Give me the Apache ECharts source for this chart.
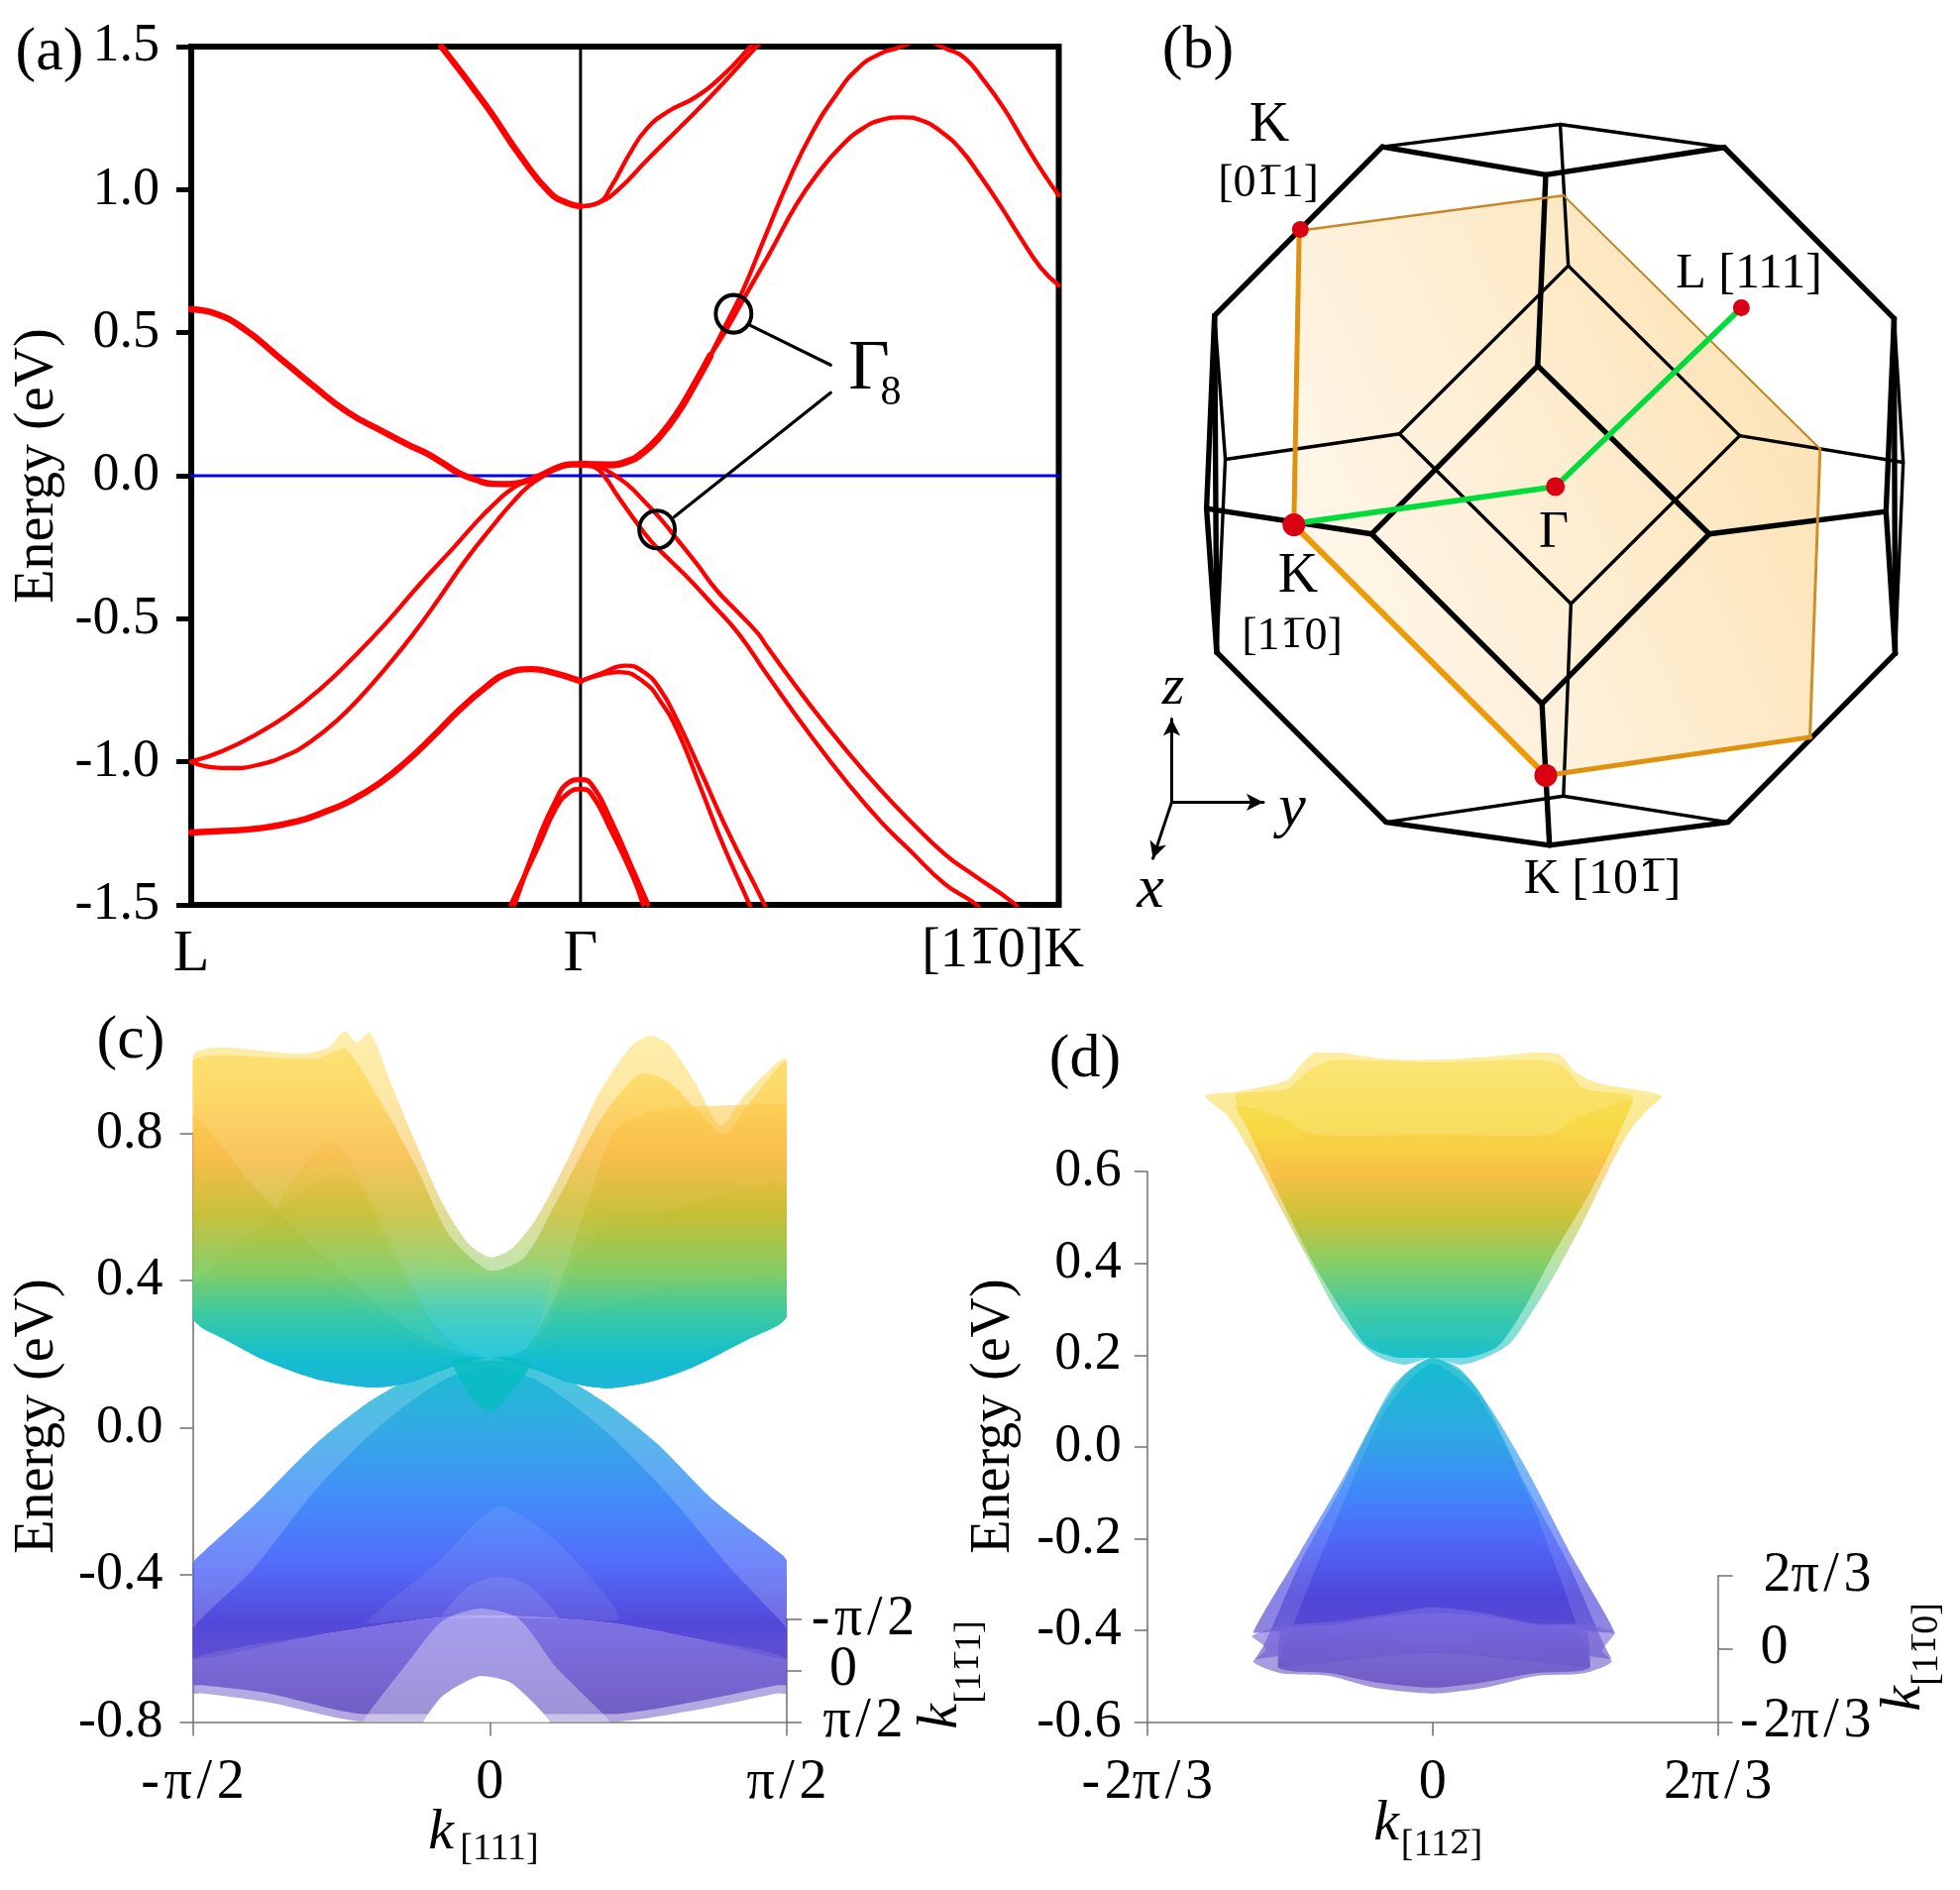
<!DOCTYPE html>
<html><head><meta charset="utf-8">
<style>html,body{margin:0;padding:0;background:#fff}#c{width:1978px;height:1907px}</style>
<script src="https://cdn.jsdelivr.net/npm/echarts@6/dist/echarts.min.js"></script>
</head><body><div id="c"></div>
<script>
/* ---------- (a) band structure: k (Gamma=0, L=-81.4, K=100), E in eV ---------- */
const bandCondL = [[-29.1,1.5],[-19.6,1.29],[-12.4,1.113],[-6.5,.991],[-2.9,.954],[0,.942]];
const bandCondR1 = [[0,.942],[3.6,.953],[6.5,1.013],[10.2,1.124],[13.8,1.212],[18.2,1.272],[24,1.323],[29.8,1.40],[34.9,1.489],[36.4,1.52]];
const bandCondR2 = [[0,.942],[3.6,.953],[8,1.002],[13.8,1.102],[21.1,1.223],[28.3,1.345],[36.8,1.5],[38,1.52]];
const bandFermiL = [[-81.4,.582],[-76.3,.566],[-70.5,.515],[-63.2,.416],[-56,.316],[-48.7,.222],[-41.4,.155],[-36,.108],[-32.3,.079],[-28.8,.044],[-25.4,.009],[-21.9,-.014],[-18.5,-.028],[-15,-.029],[-11.6,-.02],[-8.1,.003],[-4.7,.029],[-1.9,.04],[0,.04]];
const bandFermiR = [[0,.04],[5.7,.038],[9.8,.05],[13.3,.084],[16.8,.142],[20.2,.217],[23.7,.315],[27.1,.419]];
const bandFermiR1 = [[27.1,.419],[29.9,.512],[34,.65],[38.5,.832],[43.7,1.039],[48.5,1.201],[53.3,1.328],[58.2,1.427],[63,1.478],[65.8,1.492],[71.3,1.52],[76.8,1.49],[80.3,1.461],[84.4,1.38],[88.6,1.282],[92.7,1.167],[96.8,1.057],[100,.98]];
const bandFermiR2 = [[27.1,.419],[30.5,.51],[35.2,.65],[39.8,.785],[45.1,.947],[49.9,1.063],[54.7,1.155],[58.9,1.213],[63,1.244],[67.2,1.253],[71.3,1.242],[75.5,1.201],[79.6,1.138],[83.7,1.045],[87.9,.941],[92,.832],[96.2,.728],[100,.665]];
const bandValL1 = [[-81.4,-.999],[-75.1,-.964],[-67.5,-.901],[-61.3,-.837],[-54.4,-.745],[-47.5,-.635],[-40.6,-.514],[-33.7,-.381],[-26.7,-.254],[-21.9,-.164],[-18.5,-.106],[-15,-.054],[-11.6,-.02],[-8.1,.003],[-4.7,.029],[0,.04]];
const bandValL2 = [[-81.4,-1],[-77.2,-1.019],[-73,-1.022],[-67.5,-1.011],[-61.3,-.976],[-56.5,-.93],[-50.9,-.855],[-45.4,-.762],[-40.6,-.67],[-35,-.554],[-29.5,-.427],[-24,-.295],[-17.8,-.164],[-14.3,-.095],[-10.9,-.037],[-7.4,.003],[-4.7,.029],[0,.04]];
const bandValR1 = [[0,.04],[2.9,.036],[6.4,.009],[9.8,-.031],[13.3,-.089],[16.8,-.152],[20.2,-.222],[24.3,-.308],[28.5,-.401],[32.6,-.472],[37.1,-.551],[38.9,-.595],[47.8,-.797],[56.1,-.97],[63,-1.103],[68.6,-1.201],[76.1,-1.322],[82.3,-1.397],[90.3,-1.49],[92,-1.52]];
const bandValR2 = [[0,.04],[2.9,.03],[5,-.002],[7.8,-.072],[11.2,-.152],[14.7,-.228],[18.8,-.297],[23,-.366],[27.1,-.441],[33,-.551],[38.9,-.693],[47.8,-.901],[56.1,-1.08],[63,-1.213],[68.6,-1.305],[76.1,-1.426],[82,-1.49],[84,-1.52]];
const bandSplitL = [[-81.4,-1.247],[-75.1,-1.242],[-67.5,-1.233],[-59.2,-1.208],[-53,-1.172],[-48.2,-1.137],[-42,-1.074],[-36.4,-.999],[-30.9,-.912],[-25.4,-.82],[-19.8,-.739],[-15.7,-.693],[-10.2,-.676],[-6,-.687],[0,-.718]];
const bandSplitR1 = [[0,-.718],[4.4,-.69],[9.4,-.664],[13.3,-.687],[16.8,-.751],[20.2,-.855],[25,-1.028],[30.6,-1.236],[38.2,-1.49],[39,-1.52]];
const bandSplitR2 = [[0,-.718],[4.4,-.695],[8,-.686],[13.3,-.722],[16.8,-.791],[20.2,-.889],[25,-1.086],[29.9,-1.294],[35.1,-1.49],[35.8,-1.52]];
const bandLow1 = [[-13.8,-1.498],[-8.8,-1.27],[-5.1,-1.133],[-2.6,-1.074],[0,-1.062],[2.2,-1.077],[6.5,-1.21],[10.9,-1.376],[14.1,-1.498]];
const bandLow2 = [[-14.5,-1.498],[-8.8,-1.294],[-5.3,-1.166],[-2.6,-1.11],[0,-1.095],[2.2,-1.111],[6.5,-1.243],[10.9,-1.398],[13.1,-1.498]];
const gammaCircles = [[32,.566],[16,-.188]];
const gammaLeader1 = [[35.3,.527],[52.3,.387]];
const gammaLeader2 = [[19.6,-.144],[52.3,.29]];

/* ---------- (b) Brillouin zone schematic, plane units 0..1568 ---------- */
const bzThick = [
 [[490,242],[795,288],[1128,243]],[[795,288],[780,603]],[[490,242],[177,520]],[[1128,243],[1445,525]],
 [[181,1075],[497,1355],[802,1393],[1135,1355],[1447,1077]],[[802,1393],[788,1160]],
 [[780,603],[470,880],[788,1160],[1100,880],[780,603]],[[162,838],[470,880]],[[1100,880],[1430,843]],
 [[177,520],[181,1075]],[[177,520],[162,838],[181,1075]],[[1445,525],[1447,1077]],[[1445,525],[1430,843],[1447,1077]]];
const bzThin = [
 [[497,1355],[828,1312],[1135,1355]],[[828,1312],[842,995]],[[490,242],[822,205],[1128,243]],[[822,205],[837,438]],
 [[837,438],[522,715],[842,995],[1157,718],[837,438]],[[197,757],[522,715]],[[1157,718],[1462,762]],
 [[177,520],[197,757],[181,1075]],[[1445,525],[1462,762],[1447,1077]]];
const bzPlane = [[335,380],[828,322],[1307,740],[1288,1215],[795,1278],[325,865]];
const bzPlaneEdges = [
 {p:[[335,380],[828,322]],w:2.5,c:'#c4892a'},{p:[[828,322],[1307,740]],w:2,c:'#bd8624'},
 {p:[[1307,740],[1288,1215]],w:3,c:'#cd9028'},{p:[[1288,1215],[795,1278]],w:5,c:'#de9210'},
 {p:[[795,1278],[325,865]],w:6,c:'#ee9a06'},{p:[[325,865],[335,380]],w:5,c:'#de9210'}];
const bzPath = [[325,863],[813,802],[1160,507]];
const bzPoints = [{p:[337,378],s:17},{p:[325,865],s:23},{p:[795,1278],s:23},{p:[813,802],s:19},{p:[1160,507],s:17}];
const triadZ = [[97,1322],[97,1185]], triadY = [[97,1322],[268,1322]], triadX = [[97,1322],[62,1415]];

/* ---------- (c) surface sheets: k in units of pi/2, E in eV ---------- */
const cLow = [[-1,.30],[-.97,.272],[-.904,.245],[-.755,.182],[-.585,.132],[-.394,.109],[-.266,.123],[-.16,.156],[0,.19],[.16,.156],[.266,.123],[.394,.107],[.543,.125],[.691,.167],[.862,.237],[.97,.278],[1,.304]];
const cTopA = [[-1,1.008],[-.628,1.016],[-.543,1.034],[-.489,1.078],[-.447,1.047],[-.404,1.075],[-.33,.93],[-.245,.766],[-.16,.611],[-.074,.502],[0,.463],[.074,.486],[.16,.572],[.266,.735],[.372,.914],[.479,1.039],[.543,1.065],[.606,1.039],[.691,.938],[.777,.821],[.862,.907],[1,1.0]];
const cTopB = [[-1,.997],[-.585,1.003],[-.489,1.031],[-.372,.891],[-.245,.704],[-.138,.525],[0,.427],[.117,.463],[.223,.611],[.372,.836],[.479,.945],[.521,.964],[.606,.938],[.691,.868],[.787,.798],[.883,.891],[1,.992]];
const cTopC = [[-1,.844],[-.904,.766],[-.798,.657],[-.691,.572],[-.543,.455],[-.372,.33],[-.245,.252],[-.117,.206],[0,.19],[.117,.213],[.223,.361],[.33,.611],[.426,.813],[.564,.864],[.777,.875],[1,.88]];
const cTopD = [[-1,.385],[-.798,.502],[-.649,.688],[-.532,.782],[-.436,.673],[-.33,.502],[-.202,.299],[-.096,.213],[0,.19],[.117,.213],[.223,.315],[.394,.564],[.564,.587],[1,.657]];
const cTopE = [[-1,.385],[-.713,.587],[-.606,.657],[-.511,.681],[-.436,.65],[-.33,.47],[-.16,.252],[0,.19],[.16,.237],[.33,.517],[.564,.572],[1,.65]];
const cTopF = [[-1,.385],[-.734,.424],[-.543,.393],[-.33,.268],[-.16,.2],[0,.19],[.16,.2],[.33,.3],[.6,.38],[1,.4]];
const cFunnel = [[-.3,.46],[0,.42],[.22,.5],[.16,.26],[.1,.2],[0,.19],[-.1,.2],[-.2,.28]];
const cDrop = [[-.128,.182],[-.074,.097],[0,.042],[.074,.097],[.138,.174],[0,.19]];
const cValTop1 = [[-1,-.371],[-.96,-.335],[-.798,-.215],[-.585,-.044],[-.415,.065],[-.245,.143],[-.117,.174],[0,.182],[.117,.174],[.266,.128],[.394,.065],[.564,-.044],[.755,-.199],[.96,-.33],[1,-.363]];
const cValTop2 = [[-1,-.55],[-.96,-.51],[-.798,-.386],[-.585,-.168],[-.372,.003],[-.16,.128],[0,.167],[.16,.128],[.372,.003],[.585,-.168],[.798,-.371],[.96,-.51],[1,-.55]];
const cValBase = [[-1,-.628],[-.585,-.565],[-.202,-.519],[0,-.511],[.234,-.519],[.436,-.534],[.691,-.573],[1,-.628]];
const cDiscLow1 = [[-1,-.721],[-.97,-.722],[-.755,-.745],[-.426,-.799],[.415,-.8],[.691,-.768],[.97,-.722],[1,-.721]];
const cDiscLow2 = [[-1,-.698],[-.97,-.7],[-.755,-.721],[-.426,-.779],[.415,-.779],[.691,-.745],[.97,-.7],[1,-.698]];
const cLobe1 = [[-.415,-.534],[-.181,-.371],[.032,-.215],[.223,-.308],[.436,-.519],[.234,-.519],[-.202,-.519]];
const cLobe2 = [[-.16,-.511],[-.074,-.433],[.032,-.405],[.138,-.433],[.234,-.519]];
const cLobe3 = [[-.426,-.8],[-.266,-.628],[-.16,-.526],[-.032,-.492],[.096,-.519],[.223,-.651],[.404,-.8]];
const cHole = [[-.223,-.8],[-.16,-.73],[-.032,-.675],[.074,-.695],[.202,-.8]];

/* ---------- (d) surface sheets: k in units of 2pi/3, E in eV ---------- */
const dOuter = [[-.797,.765],[-.683,.775],[-.509,.8],[-.455,.838],[-.412,.86],[-.336,.86],[-.163,.846],[.011,.844],[.184,.85],[.358,.86],[.444,.856],[.498,.819],[.574,.794],[.806,.765],[.748,.731],[.683,.681],[.618,.606],[.531,.494],[.423,.369],[.336,.281],[.271,.225],[.184,.194],[.098,.179],[0,.194],[-.098,.179],[-.184,.194],[-.26,.231],[-.336,.294],[-.423,.394],[-.531,.519],[-.639,.644],[-.715,.719]];
const dInner = [[-.693,.765],[-.509,.781],[-.423,.825],[-.336,.844],[.011,.838],[.358,.844],[.455,.831],[.531,.781],[.704,.763],[.661,.694],[.553,.556],[.423,.419],[.314,.294],[.228,.219],[.119,.194],[0,.194],[-.119,.194],[-.228,.219],[-.314,.294],[-.423,.406],[-.553,.569],[-.639,.681]];
const dFront = [[-.693,.744],[-.509,.713],[-.423,.681],[.011,.681],[.423,.681],[.488,.713],[.704,.756],[.661,.694],[.553,.556],[.423,.419],[.314,.294],[.228,.219],[.119,.194],[0,.194],[-.119,.194],[-.228,.219],[-.314,.294],[-.423,.406],[-.553,.569],[-.639,.681]];
const dCone1 = [[0,.194],[.098,.169],[.206,.081],[.336,-.056],[.488,-.238],[.639,-.406],[0,-.369],[-.628,-.406],[-.466,-.231],[-.314,-.069],[-.206,.056],[-.098,.156]];
const dCone2 = [[0,.194],[.152,.131],[.325,-.081],[.477,-.256],[.596,-.425],[.628,-.463],[0,-.4],[-.622,-.463],[-.585,-.425],[-.466,-.256],[-.314,-.081],[-.141,.131]];
const dCone3 = [[0,.181],[.163,.106],[.336,-.106],[.466,-.319],[.553,-.481],[0,-.45],[-.542,-.481],[-.444,-.319],[-.336,-.156],[-.163,.081]];
const dDisc1 = [[-.633,-.413],[-.596,-.431],[-.585,-.444],[-.628,-.469],[-.531,-.494],[-.358,-.5],[-.206,-.525],[0,-.538],[.184,-.525],[.358,-.5],[.531,-.494],[.628,-.469],[.596,-.444],[.639,-.406],[.531,-.388],[.358,-.385],[.184,-.363],[0,-.35],[-.141,-.363],[-.336,-.381],[-.531,-.391]];
const dDisc2 = [[-.542,-.481],[-.358,-.494],[-.206,-.513],[0,-.525],[.184,-.513],[.358,-.494],[.553,-.481],[.531,-.394],[.358,-.388],[.184,-.369],[0,-.363],[-.141,-.369],[-.336,-.388],[-.531,-.4]];

/* colour scales: energy -> colour */
const cScale = [[1.1,'#fbe05a'],[.92,'#fcd24a'],[.74,'#f8b83c'],[.58,'#c4bc2c'],[.42,'#7ccb60'],[.31,'#36c8a0'],[.19,'#0cbccc'],[0,'#28a6e2'],[-.21,'#3a84fa'],[-.37,'#4a64f8'],[-.53,'#4a40d8'],[-.63,'#5646cc'],[-.8,'#6a50c0']];
const dScale = [[.88,'#fbe05a'],[.7,'#f6d83c'],[.6,'#f8be3c'],[.5,'#c8c030'],[.4,'#80cc60'],[.3,'#38c8a0'],[.19,'#0cbccc'],[.03,'#28a6e2'],[-.1,'#3a84fa'],[-.2,'#4a64f8'],[-.33,'#4a40d8'],[-.42,'#5646cc'],[-.55,'#6a50c0']];
const cDiscScale = [[-.5,'#7468e6'],[-.8,'#6650bc']];
const dDiscScale = [[-.34,'#7a6ee8'],[-.54,'#6650bc']];
const funnelScale = [[.46,'rgba(30,200,230,0)'],[.2,'rgba(30,200,230,.45)']];

/* layout */
const FONT = '"Liberation Serif"';
const sheet = (top,low)=>top.concat(low.slice().reverse());

function sheetSeries(pts,grid,scale,opacity,fillColor){
  return {type:'custom',xAxisIndex:grid,yAxisIndex:grid,data:pts,encode:{x:0,y:1},silent:true,
   renderItem:(params,api)=>{
    if(params.dataIndex!==0) return null;
    const p=pts.map(q=>api.coord(q));
    let fill=fillColor;
    if(!fill){
      const y0=api.coord([0,scale[0][0]])[1], y1=api.coord([0,scale[scale.length-1][0]])[1];
      fill={type:'linear',x:0,y:y0,x2:0,y2:y1,global:true,
        colorStops:scale.map(s=>({offset:(api.coord([0,s[0]])[1]-y0)/(y1-y0),color:s[1]}))};
    }
    const xs=p.map(a=>a[0]),ys=p.map(a=>a[1]);
    return {type:'polygon',silent:true,shape:{points:p,smooth:.25,smoothConstraint:[[Math.min(...xs),Math.min(...ys)],[Math.max(...xs),Math.max(...ys)]]},style:{fill,opacity}};
   }};
}
const line=(pts,grid,w,c,extra)=>Object.assign({type:'line',xAxisIndex:grid,yAxisIndex:grid,data:pts,showSymbol:false,symbol:'none',silent:true,lineStyle:{width:w,color:c,cap:'round',join:'round'}},extra||{});
const redThin=4.3, redThick=6.4, RED='#ff0000', SM={smooth:.5};
const fmtE=v=>(Math.abs(v)<1e-9?0:v).toFixed(1);
const H='\u200a';
const P2N='-'+H+'\u03c0'+H+'/'+H+'2', P2='\u03c0'+H+'/'+H+'2';
const T3N='-'+H+'2\u03c0'+H+'/'+H+'3', T3='2\u03c0'+H+'/'+H+'3';
const mathFmt=(a,b,c)=>v=>v<-.5?a:(v>.5?c:b);

const series=[
 line([[0,-1.5],[0,1.5]],0,3,'#000'),
 line([[-81.4,0],[100,0]],0,3.2,'#0000ee'),
 line(bandCondL,0,redThick,RED,SM),line(bandCondR1,0,redThin,RED,SM),line(bandCondR2,0,redThin,RED,SM),
 line(bandFermiL,0,redThick,RED,SM),line(bandFermiR,0,redThick+.8,RED,SM),
 line(bandFermiR1,0,redThin,RED,SM),line(bandFermiR2,0,redThin,RED,SM),
 line(bandValL1,0,redThin,RED,SM),line(bandValL2,0,redThin,RED,SM),
 line(bandValR1,0,redThin,RED,SM),line(bandValR2,0,redThin,RED,SM),
 line(bandSplitL,0,redThick,RED,SM),line(bandSplitR1,0,redThin,RED,SM),line(bandSplitR2,0,redThin,RED,SM),
 line(bandLow1,0,redThin+.6,RED,SM),line(bandLow2,0,redThin+.6,RED,SM),
 line(gammaLeader1,0,3.2,'#000',{z:5}),line(gammaLeader2,0,3.2,'#000',{z:5}),
 {type:'scatter',xAxisIndex:0,yAxisIndex:0,data:gammaCircles,symbol:'circle',symbolSize:[36,38],silent:true,z:5,itemStyle:{color:'rgba(0,0,0,0)',borderColor:'#000',borderWidth:4,opacity:1}},
 /* (b) */
 {type:'custom',xAxisIndex:1,yAxisIndex:1,data:bzPlane,encode:{x:0,y:1},silent:true,z:1,renderItem:(params,api)=>{
   if(params.dataIndex!==0) return null;
   const a=api.coord([325,1100]),b=api.coord([1300,700]);
   return {type:'polygon',shape:{points:bzPlane.map(q=>api.coord(q))},style:{fill:{type:'linear',x:a[0],y:a[1],x2:b[0],y2:b[1],global:true,colorStops:[{offset:0,color:'#fff9f0'},{offset:1,color:'#fde3b6'}]}}};
 }},
 ...bzThick.map(p=>line(p,1,5.4,'#000',{z:3})),
 ...bzThin.map(p=>line(p,1,3.4,'#000',{z:3})),
 ...bzPlaneEdges.map(e=>line(e.p,1,e.w,e.c,{z:4})),
 line(bzPath,1,5.6,'#00dc3c',{z:5}),
 {type:'scatter',xAxisIndex:1,yAxisIndex:1,z:6,silent:true,data:bzPoints.map(o=>({value:o.p,symbolSize:o.s})),itemStyle:{color:'#d80012',opacity:1}},
 line(triadZ,1,3,'#000'),line(triadY,1,3,'#000'),line(triadX,1,3,'#000'),
 {type:'scatter',xAxisIndex:1,yAxisIndex:1,silent:true,symbol:'arrow',itemStyle:{color:'#000',opacity:1},
  data:[{value:triadZ[1],symbolRotate:0,symbolSize:[13,17]},{value:triadY[1],symbolRotate:-90,symbolSize:[13,17]},{value:triadX[1],symbolRotate:162,symbolSize:[13,17]}]},
 /* (c) */
 sheetSeries(sheet(cTopA,cLow),2,cScale,.5),
 sheetSeries(sheet(cTopB,cLow),2,cScale,.65),
 sheetSeries(sheet(cTopE,cLow),2,cScale,.3),
 sheetSeries(sheet(cTopD,cLow),2,cScale,.3),
 sheetSeries(sheet(cTopF,cLow),2,cScale,.3),
 sheetSeries(sheet(cTopC,cLow),2,cScale,.55),
 sheetSeries(cFunnel,2,funnelScale,1),
 sheetSeries(sheet(cValTop1,cValBase),2,cScale,.78),
 sheetSeries(sheet(cValTop2,cValBase),2,cScale,.78),
 sheetSeries(sheet(cValBase,cDiscLow1),2,cDiscScale,.5),
 sheetSeries(sheet(cValBase,cDiscLow2),2,cDiscScale,.85),
 sheetSeries(cDrop,2,cScale,.85,'#08bcc2'),
 sheetSeries(cLobe1,2,cScale,.08,'#ffffff'),
 sheetSeries(cLobe2,2,cScale,.1,'#ffffff'),
 sheetSeries(cLobe3,2,cScale,.32,'#ffffff'),
 sheetSeries(cHole,2,cScale,1,'#ffffff'),
 /* (d) */
 sheetSeries(dOuter,3,dScale,.55),
 sheetSeries(dInner,3,dScale,.6),
 sheetSeries(dFront,3,dScale,.75),
 sheetSeries(dCone1,3,dScale,.65),
 sheetSeries(dCone2,3,dScale,.6),
 sheetSeries(dCone3,3,dScale,.8),
 sheetSeries(dDisc1,3,dDiscScale,.6),
 sheetSeries(dDisc2,3,dDiscScale,.85)
];

const thin={lineStyle:{color:'#777',width:1.6}};
const labelStyle={fontFamily:FONT,fontSize:54,color:'#000'};
const mathStyle={fontFamily:FONT,fontSize:56,color:'#000',hideOverlap:false,showMinLabel:true,showMaxLabel:true};
const grids=[
 {left:193,top:47,width:875.5,height:866,show:true,borderColor:'#000',borderWidth:6,backgroundColor:'transparent'},
 {left:1130,top:0,width:848,height:960},
 {left:194.5,top:1143.4,width:599.5,height:594},
 {left:1157.8,top:1182.2,width:575.8,height:555.2},
 {left:793,top:1634,width:1,height:103.4},
 {left:1732.6,top:1590,width:1,height:147.4}
];
const hiddenX=i=>({type:'value',gridIndex:i,show:false,min:0,max:1});
const xAxis=[
 {type:'value',gridIndex:0,min:-81.4,max:100,axisLine:{show:false,onZero:false},axisTick:{show:false},splitLine:{show:false},
  axisLabel:{...labelStyle,fontSize:60,margin:20,customValues:[-81.4,0],formatter:v=>v<-1?'L':'\u0393'}},
 {type:'value',gridIndex:1,show:false,min:0,max:1568},
 {type:'value',gridIndex:2,min:-1,max:1,interval:1,axisLine:{show:true,onZero:false,...thin},axisTick:{length:14,...thin},splitLine:{show:false},
  axisLabel:{...mathStyle,margin:34,formatter:mathFmt(P2N,'0',P2)}},
 {type:'value',gridIndex:3,min:-1,max:1,interval:1,axisLine:{show:true,onZero:false,...thin},axisTick:{length:14,...thin},splitLine:{show:false},
  axisLabel:{...mathStyle,margin:34,formatter:mathFmt(T3N,'0',T3)}},
 hiddenX(4),hiddenX(5)
];
const yAxis=[
 {type:'value',gridIndex:0,position:'left',min:-1.5,max:1.5,interval:.5,axisLine:{show:false,onZero:false},axisTick:{show:true,length:15,lineStyle:{color:'#000',width:5}},splitLine:{show:false},
  axisLabel:{...labelStyle,margin:32,formatter:fmtE}},
 {type:'value',gridIndex:1,show:false,min:0,max:1568,inverse:true},
 {type:'value',gridIndex:2,position:'left',min:-.8,max:.8,interval:.4,axisLine:{show:true,onZero:false,...thin},axisTick:{length:13,...thin},splitLine:{show:false},
  axisLabel:{...labelStyle,margin:30,formatter:fmtE}},
 {type:'value',gridIndex:3,position:'left',min:-.6,max:.6,interval:.2,axisLine:{show:true,onZero:false,...thin},axisTick:{length:13,...thin},splitLine:{show:false},
  axisLabel:{...labelStyle,margin:26,formatter:fmtE}},
 {type:'value',gridIndex:4,position:'right',inverse:true,min:-1,max:1,interval:1,axisLine:{show:true,onZero:false,...thin},axisTick:{length:15,...thin},splitLine:{show:false},
  axisLabel:{...mathStyle,align:'center',margin:77,formatter:mathFmt(P2N,'',P2)}},
 {type:'value',gridIndex:5,position:'right',min:-1,max:1,interval:1,axisLine:{show:true,onZero:false,...thin},axisTick:{length:15,...thin},splitLine:{show:false},
  axisLabel:{...mathStyle,align:'right',margin:155,formatter:mathFmt(T3N,'0\u00a0\u00a0\u00a0\u00a0\u00a0\u00a0',T3)}}
];

const T=(text,x,y,size,opt)=>{opt=opt||{};return {type:'text',x,y,rotation:opt.rot||0,z:20,silent:true,
  style:{text,fontFamily:FONT,fontSize:size,fontStyle:opt.italic?'italic':'normal',fill:'#000',align:opt.align||'center',verticalAlign:'middle',rich:opt.rich}};};
/* labels with an overbar digit: the barred digit uses a font whose mark sits over the digit */
const BAR='\u0305';
const richFor=s=>({a:{fontFamily:FONT,fontSize:s,fill:'#000'},b:{fontFamily:'"DejaVu Serif"',fontSize:Math.round(s*.84),fill:'#000'}});
const TB=(before,digit,after,x,y,size,opt)=>T('{a|'+before+'}{b|'+digit+BAR+'}{a|'+after+'}',x,y,size,Object.assign({rich:richFor(size)},opt||{}));
const texts=[
 T('(a)',50,54,62),T('(b)',1209,52,62),T('(c)',132,1051,62),T('(d)',1095,1070,62),
 T('Energy (eV)',38,470,56,{rot:Math.PI/2}),T('Energy (eV)',38,1429,56,{rot:Math.PI/2}),T('Energy (eV)',1003,1429,56,{rot:Math.PI/2}),
 TB('[1','1','0]K',1012,960,56),
 T('\u0393',877,373,72),T('8',899,397,42),
 T('K',1281,127,56),TB('[0','1','1]',1280,186,46),
 T('L [111]',1765,277,50),T('\u0393',1568,538,52),
 T('K',1310,582,56),TB('[1','1','0]',1304,643,46),TB('K [10','1',']',1617,888,50),
 T('z',1184,695,58,{italic:true}),T('y',1304,817,62,{italic:true}),T('x',1161,899,62,{italic:true}),
 T('0',851,1685,56),
 T('k',445,1850,58,{italic:true}),T('[111]',504,1866,38),
 T('k',1399,1841,58,{italic:true}),TB('[11','2',']',1455,1862,38),
 T('k',950,1732,58,{italic:true,rot:Math.PI/2}),TB('[1','1','1]',979,1677,38,{rot:Math.PI/2}),
 T('k',1922,1714,58,{italic:true,rot:Math.PI/2}),TB('[1','1','0]',1945,1659,38,{rot:Math.PI/2})
];

const chart=echarts.init(document.getElementById('c'),null,{renderer:'canvas'});
chart.setOption({animation:false,backgroundColor:'#fff',grid:grids,xAxis,yAxis,series,graphic:{elements:texts}});
</script></body></html>
